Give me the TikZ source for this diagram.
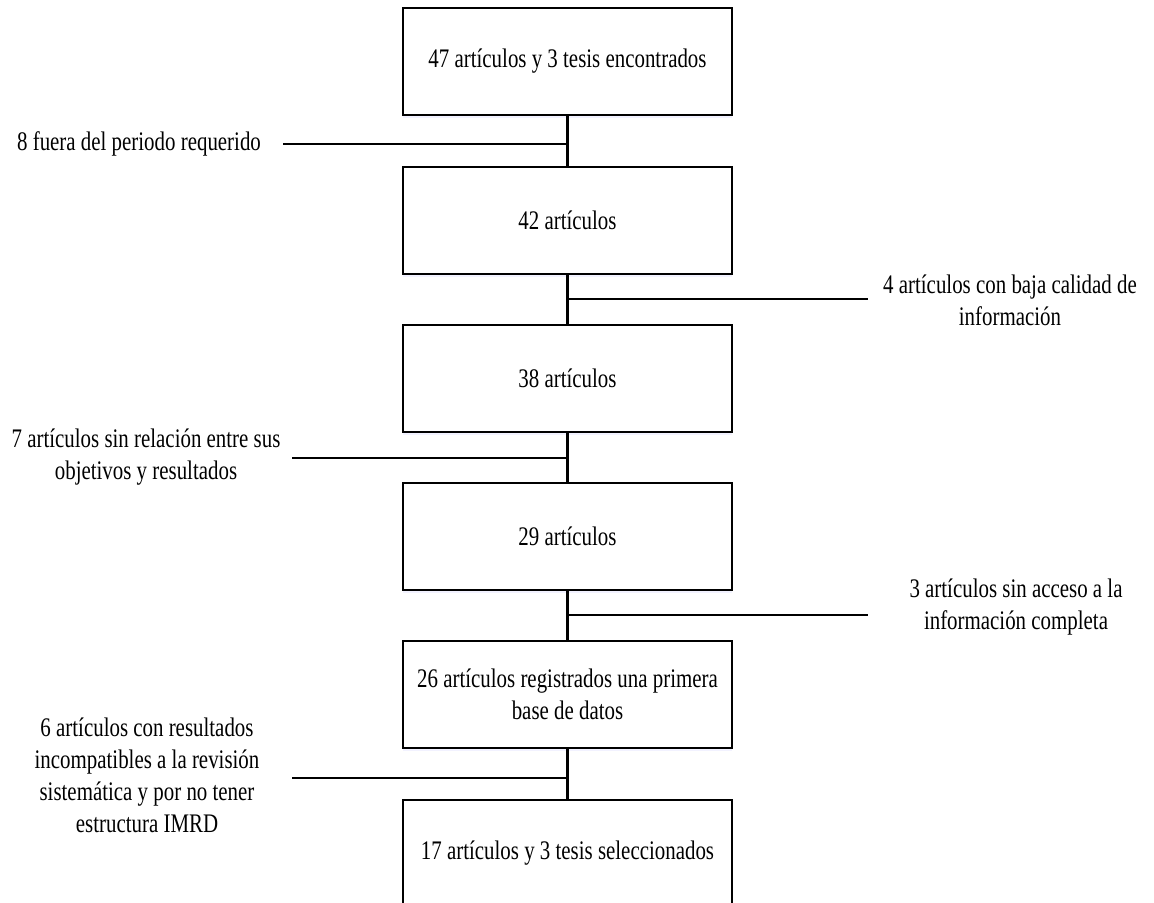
\documentclass[tikz,border=0pt]{standalone}
\usepackage{fontspec}
\setmainfont{Liberation Serif}[FakeStretch=0.78]
\usetikzlibrary{shadows}

\begin{document}
\begin{tikzpicture}[x=0.5pt,y=-0.5pt,thick,
  caja/.style={draw,line width=1pt,fill=white,minimum width=164.5pt,minimum height=53.5pt,
    align=center,font=\fontsize{13.4}{16}\selectfont,
    drop shadow={shadow xshift=0pt,shadow yshift=-1.5pt,opacity=0.35,fill=blue!15}},
  nota/.style={align=center,font=\fontsize{13.4}{16}\selectfont},
  linea/.style={line width=1.2pt}]
\useasboundingbox (0,0) rectangle (1154,902);

% cajas del flujo
\node[caja] (b1) at (567.5,61.5) {47 artículos y 3 tesis encontrados};
\node[caja] (b2) at (567.5,220) {42 artículos};
\node[caja] (b3) at (567.5,378) {38 artículos};
\node[caja] (b4) at (567.5,536) {29 artículos};
\node[caja] (b5) at (567.5,694.5) {26 artículos registrados una primera\\ base de datos};
\node[caja] (b6) at (567.5,853) {17 artículos y 3 tesis seleccionados};

\draw[linea] (b1.south) -- (b2.north);
\draw[linea] (b2.south) -- (b3.north);
\draw[linea] (b3.south) -- (b4.north);
\draw[linea] (b4.south) -- (b5.north);
\draw[linea] (b5.south) -- (b6.north);

% exclusiones
\node[nota] (l1) at (139,144) {8 fuera del periodo requerido};
\node[nota] (l2) at (1010,300) {4 artículos con baja calidad de\\ información};
\node[nota] (l3) at (146,457) {7 artículos sin relación entre sus\\ objetivos y resultados};
\node[nota] (l4) at (1016,607) {3 artículos sin acceso a la\\ información completa};
\node[nota] (l5) at (147,775) {6 artículos con resultados\\ incompatibles a la revisión\\ sistemática y por no tener\\ estructura IMRD};

\coordinate (j1) at (567.5,144);
\coordinate (e1) at (283,144);
\coordinate (j2) at (567.5,299);
\coordinate (e2) at (868,299);
\coordinate (j3) at (567.5,458);
\coordinate (e3) at (292,458);
\coordinate (j4) at (567.5,615);
\coordinate (e4) at (868,615);
\coordinate (j5) at (567.5,778);
\coordinate (e5) at (292,778);

\draw[linea] (j1) -- (e1);
\draw[linea] (j2) -- (e2);
\draw[linea] (j3) -- (e3);
\draw[linea] (j4) -- (e4);
\draw[linea] (j5) -- (e5);
\end{tikzpicture}
\end{document}
